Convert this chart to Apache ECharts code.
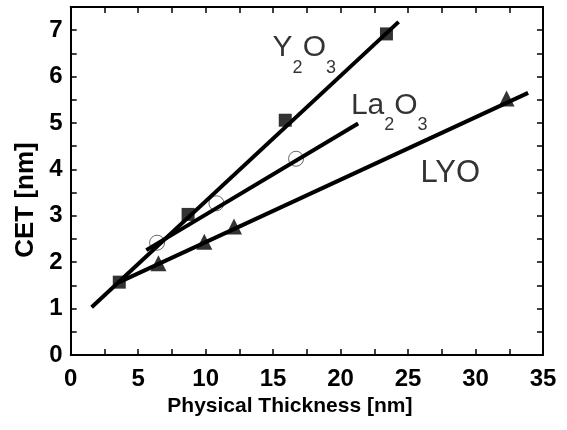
<!DOCTYPE html>
<html>
<head>
<meta charset="utf-8">
<script src="https://cdn.jsdelivr.net/npm/echarts@6/dist/echarts.min.js"></script>
<style>
  html, body { margin: 0; padding: 0; background: #fff; }
  #chart { width: 567px; height: 430px; }
</style>
</head>
<body>
<div id="chart"></div>
<script>
// measured points and fitted lines (x: physical thickness nm, y: CET nm)
const y2o3Points = [[3.6, 1.57], [8.7, 3.03], [15.9, 5.06], [23.4, 6.92]];
const y2o3Fit = [[1.55, 1.03], [24.3, 7.18]];
const la2o3Points = [[6.4, 2.42], [10.8, 3.27], [16.7, 4.23]];
const la2o3Fit = [[5.6, 2.26], [21.3, 4.99]];
const lyoPoints = [[6.5, 1.98], [9.9, 2.44], [12.1, 2.77], [32.3, 5.53]];
const lyoFit = [[3.6, 1.57], [33.9, 5.65]];

// annotation text, anchored in data coords (top-left of text)
const labelTexts = ['{n|Y}{s|2}{n|O}{s|3}', '{n|La}{s|2}{n|O}{s|3}', '{l|LYO}'];
const labelAnchors = [[15.0, 6.93], [20.8, 5.69], [25.95, 4.24]];

const xRange = [0, 35];
const yRange = [0, 7.5];

const font = '"Liberation Sans", Arial, sans-serif';
const chart = echarts.init(document.getElementById('chart'));

const tickStyle = { show: true, inside: true, length: 6, lineStyle: { color: '#000', width: 1.5 } };
const lineAxis = { show: true, onZero: false, lineStyle: { color: '#000', width: 2 } };

const fitLine = data => ({
  type: 'line',
  data: data,
  symbol: 'none',
  lineStyle: { color: '#000', width: 4 },
  z: 3
});

chart.setOption({
  animation: false,
  backgroundColor: '#fff',
  grid: { left: 70.7, right: 24, top: 7, bottom: 75 },
  xAxis: [{
    type: 'value', min: xRange[0], max: xRange[1], interval: 2.5,
    axisLine: lineAxis, axisTick: tickStyle, splitLine: { show: false },
    axisLabel: {
      margin: 12, color: '#000', fontSize: 24, fontWeight: 'bold', fontFamily: font,
      formatter: v => (v % 5 === 0 ? String(v) : '')
    },
    name: 'Physical Thickness [nm]', nameLocation: 'middle', nameGap: 28,
    nameTextStyle: { color: '#000', fontSize: 21, fontWeight: 'bold', fontFamily: font, padding: [0, 34, 0, 0] }
  }, {
    type: 'value', position: 'top', min: xRange[0], max: xRange[1], interval: 2.5,
    axisLine: lineAxis, axisTick: tickStyle, splitLine: { show: false },
    axisLabel: { show: false }
  }],
  yAxis: [{
    type: 'value', min: yRange[0], max: yRange[1], interval: 0.5,
    axisLine: lineAxis, axisTick: tickStyle, splitLine: { show: false },
    axisLabel: {
      margin: 8, color: '#000', fontSize: 24, fontWeight: 'bold', fontFamily: font,
      formatter: v => (Number.isInteger(v) && v <= 7 ? String(v) : '')
    },
    name: 'CET [nm]', nameLocation: 'middle', nameGap: 28, nameRotate: 90,
    nameTextStyle: { color: '#000', fontSize: 26, fontWeight: 'bold', fontFamily: font, padding: [0, 38, 0, 0] }
  }, {
    type: 'value', position: 'right', min: yRange[0], max: yRange[1], interval: 0.5,
    axisLine: lineAxis, axisTick: tickStyle, splitLine: { show: false },
    axisLabel: { show: false }
  }],
  series: [
    {
      type: 'scatter', data: la2o3Points, symbol: 'circle', symbolSize: 15,
      itemStyle: { color: 'rgba(0,0,0,0)', borderColor: '#444', borderWidth: 1 }, z: 2
    },
    fitLine(y2o3Fit),
    fitLine(la2o3Fit),
    fitLine(lyoFit),
    {
      type: 'scatter', data: y2o3Points, symbol: 'rect', symbolSize: 13,
      itemStyle: { color: '#000' }, z: 4
    },
    {
      type: 'scatter', data: lyoPoints, symbol: 'triangle', symbolSize: 16,
      itemStyle: { color: '#000' }, z: 4
    },
    {
      type: 'scatter', symbolSize: 1, itemStyle: { color: 'rgba(0,0,0,0)' }, z: 5,
      emphasis: { disabled: true },
      data: labelAnchors.map((p, i) => ({ value: p, label: { formatter: labelTexts[i] } })),
      label: {
        show: true, position: [0, 0], align: 'left', verticalAlign: 'top',
        color: '#000', fontFamily: font, textBorderWidth: 0,
        rich: {
          n: { fontSize: 30, lineHeight: 31, verticalAlign: 'top', fontFamily: font, color: '#000' },
          s: { fontSize: 18, lineHeight: 44, verticalAlign: 'bottom', fontFamily: font, color: '#000' },
          l: { fontSize: 31, lineHeight: 32, verticalAlign: 'top', fontFamily: font, color: '#000' }
        }
      }
    }
  ]
});
</script>
</body>
</html>
